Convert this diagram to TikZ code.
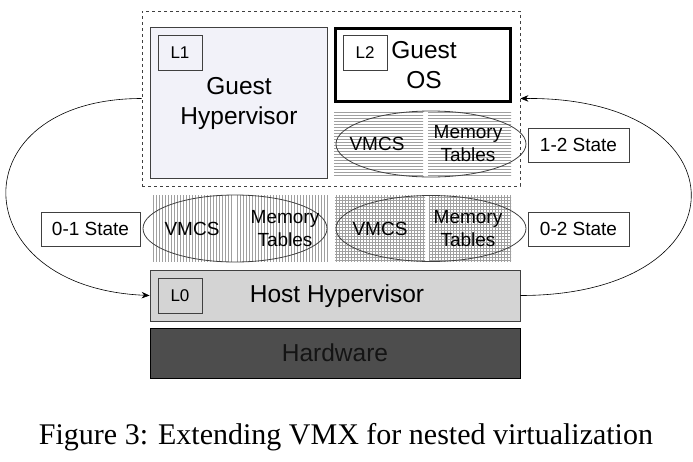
\documentclass[tikz,border=0pt]{standalone}
\usepackage{fontspec}
\setmainfont{Liberation Sans}
\newfontfamily\captionfont{Liberation Serif}
\usepackage{tikz}
\usetikzlibrary{arrows.meta}
\usetikzlibrary{patterns,shapes.geometric}

\definecolor{edgegray}{HTML}{404040}
\definecolor{guestfill}{HTML}{F2F2F9}
\definecolor{hostfill}{HTML}{D4D4D4}
\definecolor{hwfill}{HTML}{4D4D4D}
\definecolor{hwtext}{HTML}{141414}
\definecolor{hatch}{HTML}{A0A0A0}

\begin{document}
\begin{tikzpicture}[x=1pt,y=-1pt]
  \tikzset{>={Stealth[length=8pt,width=6.5pt]}}
  \tikzset{
    box/.style={draw=edgegray,line width=0.8pt,rectangle,inner sep=0pt},
    lvl/.style={box,minimum width=44pt,minimum height=35pt,
      font=\fontsize{17}{20}\selectfont},
    statebox/.style={box,fill=white,minimum width=101pt,minimum height=34pt,
      font=\fontsize{19}{23}\selectfont},
    vmcs/.style={ellipse,draw=edgegray,line width=0.8pt,inner sep=0pt,
      minimum width=190pt,minimum height=66pt},
    small/.style={font=\fontsize{19}{23}\selectfont,align=center},
    big/.style={font=\fontsize{24.5}{30}\selectfont,align=center}
  }
  \useasboundingbox (0,0) rectangle (693,461);

  % hatched backgrounds behind the three VMCS pairs, each split by a white gap
  \fill[pattern=horizontal lines,pattern color=hatch] (334,111) rectangle (423,177);
  \fill[pattern=horizontal lines,pattern color=hatch] (428,111) rectangle (511,177);
  \fill[pattern=vertical lines,pattern color=hatch] (152,195) rectangle (232,261);
  \fill[pattern=vertical lines,pattern color=hatch] (237,195) rectangle (329,261);
  \fill[pattern=grid,pattern color=hatch] (335,195) rectangle (425,261);
  \fill[pattern=grid,pattern color=hatch] (429,195) rectangle (511,261);

  % L1 / L2 area
  \node[draw=edgegray,dashed,line width=0.8pt,minimum width=378pt,
    minimum height=175pt,inner sep=0pt] (outer) at (331,98.5) {};
  \node[box,fill=guestfill,minimum width=177pt,minimum height=151pt]
    (guesthv) at (238.5,102.5) {};
  \node[big] (guesthvtext) at (239,103) {Guest\\Hypervisor};
  \node[lvl,fill=guestfill] (l1) at (180,52.5) {L1};

  \node[draw=black,line width=3pt,rectangle,fill=white,inner sep=0pt,
    minimum width=175pt,minimum height=73pt] (guestos) at (423,65) {};
  \node[big] (guestostext) at (424,65.5) {Guest\\OS};
  \node[lvl,fill=white] (l2) at (365,52.5) {L2};

  \node[vmcs] (vmcs12) at (431,144) {};
  \node[small] (vmcs12a) at (377,144) {VMCS};
  \node[small] (vmcs12b) at (468,144) {Memory\\Tables};
  \node[statebox] (state12) at (578.5,145) {1-2 State};

  % L0 state
  \node[vmcs,minimum width=184pt,minimum height=67pt] (vmcs01) at (235,228.5) {};
  \node[small] (vmcs01a) at (192,229) {VMCS};
  \node[small] (vmcs01b) at (285,228.5) {Memory\\Tables};
  \node[statebox,minimum width=99pt] (state01) at (90.5,229) {0-1 State};

  \node[vmcs] (vmcs02) at (431,228.5) {};
  \node[small] (vmcs02a) at (380,229) {VMCS};
  \node[small] (vmcs02b) at (468,228.5) {Memory\\Tables};
  \node[statebox] (state02) at (578.5,229) {0-2 State};

  % host and hardware
  \node[box,fill=hostfill,minimum width=370pt,minimum height=51pt]
    (host) at (335,295.5) {};
  \node[big] (hosttext) at (337,296) {Host Hypervisor};
  \node[lvl,fill=hostfill] (l0) at (180,296) {L0};

  \node[draw=black,line width=0.8pt,fill=hwfill,inner sep=0pt,text=hwtext,
    minimum width=370pt,minimum height=50pt,font=\fontsize{24.5}{30}\selectfont]
    (hw) at (335,353) {Hardware};

  % transitions between L1 and L2
  \draw[->,line width=0.6pt] (outer.west)
    .. controls +(-183,0) and +(-188,-8) .. (host.west);
  \draw[->,line width=0.6pt] (host.east)
    .. controls +(227,0) and +(227,-2) .. (outer.east);

  \node[font=\captionfont\fontsize{30}{34}\selectfont] (caption) at (346,437)
    {Figure 3: Extending VMX for nested virtualization};
\end{tikzpicture}
\end{document}
